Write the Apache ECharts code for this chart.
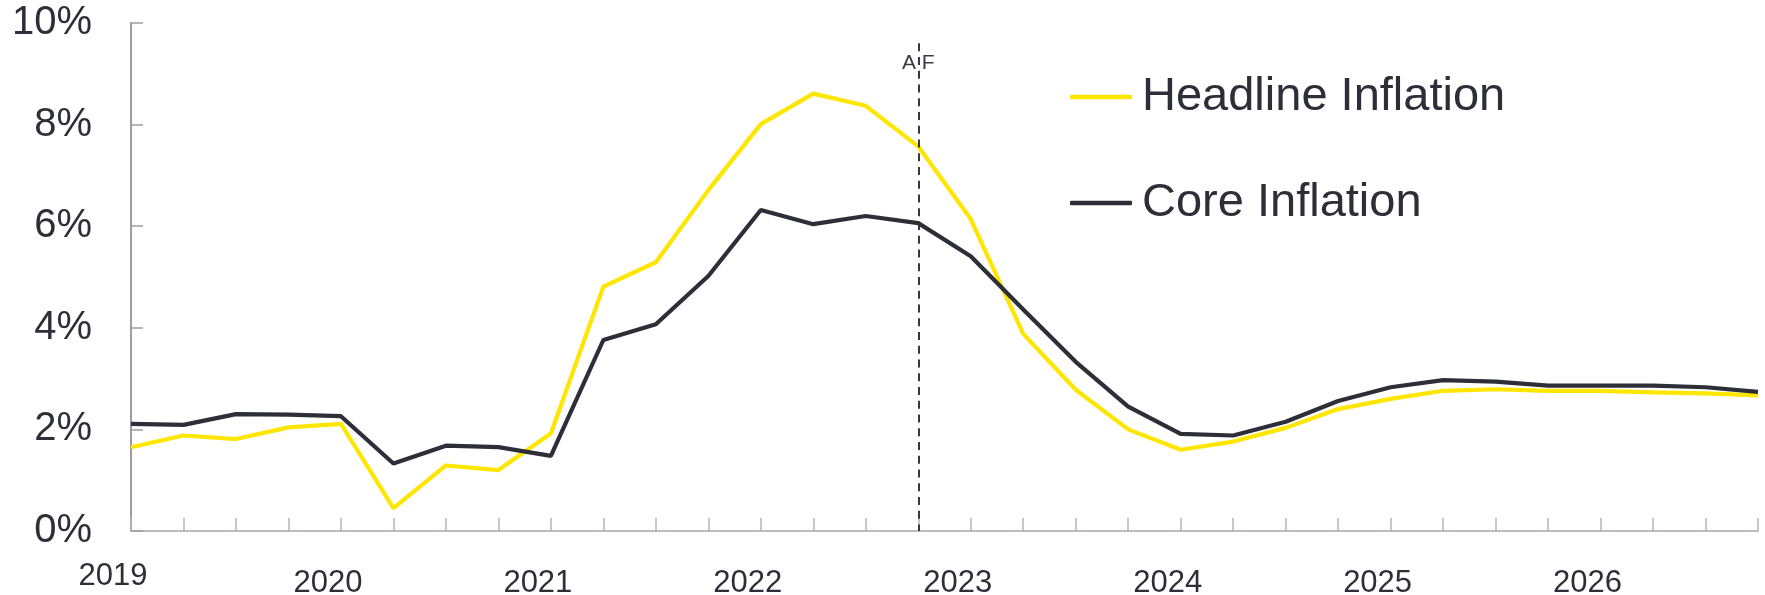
<!DOCTYPE html>
<html>
<head>
<meta charset="utf-8">
<script src="https://cdn.jsdelivr.net/npm/echarts@6/dist/echarts.min.js"></script>
<style>
  html, body { margin: 0; padding: 0; background: #ffffff; }
  #chart { width: 1765px; height: 595px; }
</style>
</head>
<body>
<div id="chart"></div>
<script>
// Quarterly periods, 2019 Q1 through 2026 Q4
const quarters = [
  '2019Q1','2019Q2','2019Q3','2019Q4',
  '2020Q1','2020Q2','2020Q3','2020Q4',
  '2021Q1','2021Q2','2021Q3','2021Q4',
  '2022Q1','2022Q2','2022Q3','2022Q4',
  '2023Q1','2023Q2','2023Q3','2023Q4',
  '2024Q1','2024Q2','2024Q3','2024Q4',
  '2025Q1','2025Q2','2025Q3','2025Q4',
  '2026Q1','2026Q2','2026Q3','2026Q4'
];

// Year-on-year inflation, %
const headlineInflation = [
  1.65, 1.88, 1.81, 2.04, 2.11, 0.45, 1.29, 1.20,
  1.92, 4.81, 5.29, 6.71, 8.01, 8.61, 8.37, 7.57,
  6.14, 3.88, 2.78, 2.00, 1.60, 1.76, 2.03, 2.40,
  2.60, 2.76, 2.79, 2.76, 2.76, 2.73, 2.71, 2.67
];
const coreInflation = [
  2.11, 2.09, 2.30, 2.29, 2.26, 1.33, 1.68, 1.65,
  1.48, 3.76, 4.07, 5.02, 6.32, 6.04, 6.20, 6.06,
  5.41, 4.36, 3.33, 2.45, 1.91, 1.88, 2.15, 2.56,
  2.83, 2.97, 2.94, 2.86, 2.86, 2.86, 2.83, 2.74
];

// Actual / forecast boundary
const forecastStart = '2022Q4';
const boundaryTop = 9.6;
const boundaryLabel = 'A F';
const boundaryLabelValue = 9.2;

const yTicks = { min: 0, max: 10, interval: 2 };

const FONT = '"Liberation Sans", Arial, sans-serif';
const INK = '#2E2E38';
const YELLOW = '#FFE600';

const chart = echarts.init(document.getElementById('chart'), null, { renderer: 'canvas' });

chart.setOption({
  animation: false,
  backgroundColor: '#ffffff',
  grid: { left: 131, right: 7, top: 23, bottom: 64, containLabel: false, outerBoundsMode: 'none' },
  legend: {
    data: ['Headline Inflation', 'Core Inflation'],
    orient: 'vertical',
    left: 1070,
    top: 72,
    padding: 0,
    icon: 'roundRect',
    itemWidth: 62,
    itemHeight: 4.5,
    itemGap: 56,
    selectedMode: false,
    textStyle: { fontFamily: FONT, fontSize: 47, color: INK, lineHeight: 50, padding: [0, 0, 0, 5] }
  },
  xAxis: {
    type: 'category',
    data: quarters,
    boundaryGap: false,
    axisLine: { show: true, lineStyle: { color: '#BBBBC2', width: 2 } },
    axisTick: { show: true, inside: true, length: 13, interval: 0, lineStyle: { color: '#B4B4BC', width: 1.5 } },
    axisLabel: {
      interval: 3,
      margin: 30,
      formatter: function (v, i) {
        const yr = v.slice(0, 4);
        return i === 0 ? '{first|' + yr + '}' : '{yr|' + yr + '}';
      },
      rich: {
        first: { fontFamily: FONT, fontSize: 31, lineHeight: 31, color: INK, padding: [0, 36, 0, 0] },
        yr: { fontFamily: FONT, fontSize: 31, lineHeight: 45, color: INK, padding: [0, 26, 0, 0] }
      }
    },
    splitLine: { show: false }
  },
  yAxis: {
    type: 'value',
    min: yTicks.min,
    max: yTicks.max,
    interval: yTicks.interval,
    axisLine: { show: true, lineStyle: { color: '#9C9CA4', width: 2 } },
    axisTick: { show: true, inside: true, length: 12, lineStyle: { color: '#9C9CA4', width: 1.5 } },
    axisLabel: {
      formatter: '{value}%',
      fontFamily: FONT,
      fontSize: 40,
      color: INK,
      margin: 39
    },
    splitLine: { show: false }
  },
  series: [
    {
      name: 'Headline Inflation',
      type: 'line',
      data: headlineInflation,
      symbol: 'none',
      lineStyle: { color: YELLOW, width: 4.2 },
      itemStyle: { color: YELLOW },
      z: 2
    },
    {
      name: 'Core Inflation',
      type: 'line',
      data: coreInflation,
      symbol: 'none',
      lineStyle: { color: INK, width: 4.2 },
      itemStyle: { color: INK },
      z: 3,
      markLine: {
        silent: true,
        symbol: ['none', 'none'],
        label: { show: false },
        lineStyle: { color: INK, width: 1.9, type: [8, 5.75] },
        data: [[{ coord: [forecastStart, boundaryTop] }, { coord: [forecastStart, 0] }]]
      },
      markPoint: {
        silent: true,
        symbol: 'rect',
        symbolSize: 1,
        itemStyle: { color: 'rgba(0,0,0,0)' },
        label: {
          show: true,
          position: 'inside',
          formatter: boundaryLabel,
          fontFamily: FONT,
          fontSize: 21,
          color: '#3A3A44'
        },
        data: [{ coord: [forecastStart, boundaryLabelValue], value: boundaryLabel }]
      }
    }
  ]
});
</script>
</body>
</html>
